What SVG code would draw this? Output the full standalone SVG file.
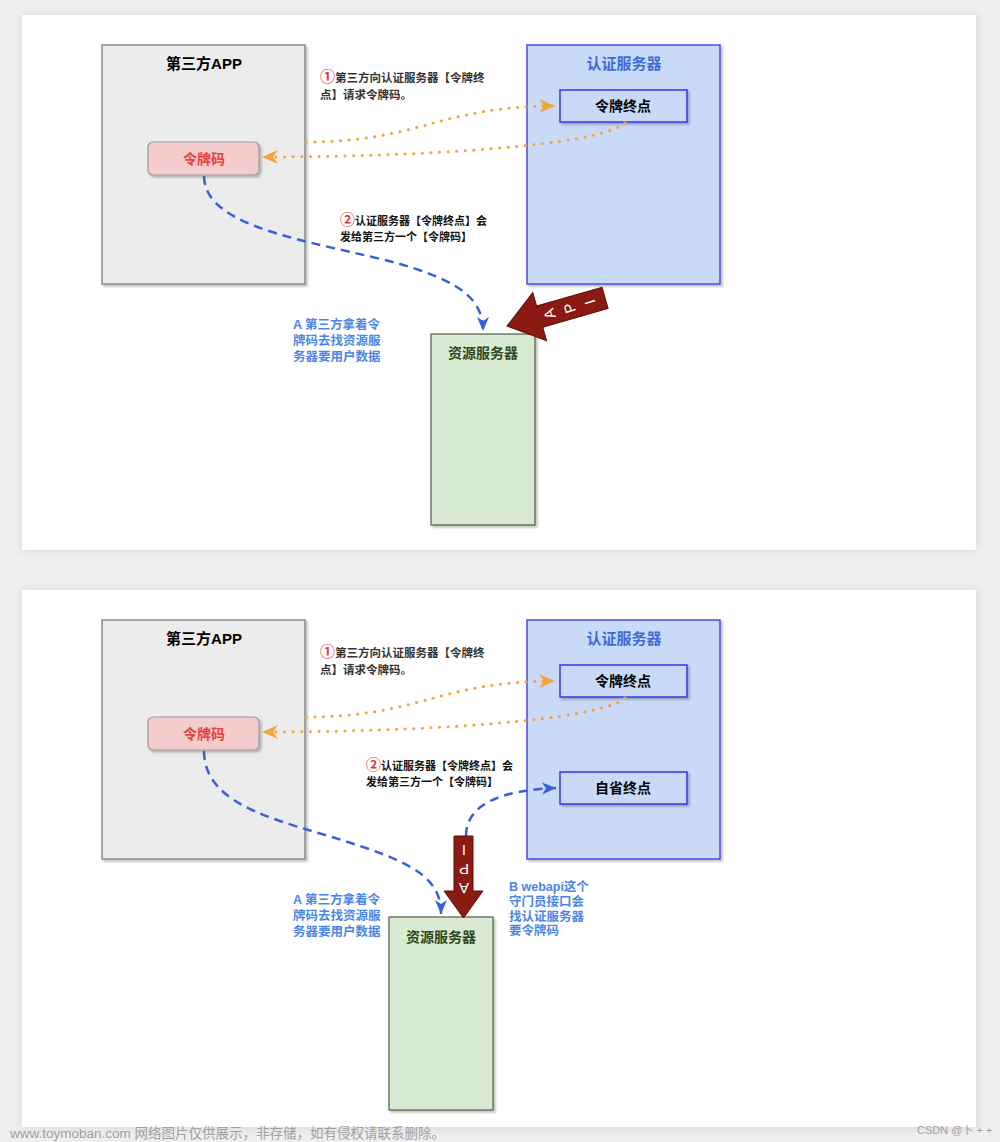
<svg xmlns="http://www.w3.org/2000/svg" width="1000" height="1142" viewBox="0 0 1000 1142">
<style>
text{font-family:"Liberation Sans","Noto Sans CJK SC",sans-serif;font-weight:bold}
.app{fill:#ececec;stroke:#8a8a8a;stroke-width:1.5}
.tok{fill:#f4cccc;stroke:#999;stroke-width:1.2}
.auth{fill:#c9daf8;stroke:#4a4ae6;stroke-width:1.5}
.ep{fill:#c9daf8;stroke:#3535e8;stroke-width:1.5}
.res{fill:#d9ead3;stroke:#4e5e40;stroke-width:1.2}
.t15{font-size:15px;text-anchor:middle}
.t14{font-size:14px;text-anchor:middle}
.lbl{font-size:11.5px;fill:#333}
.lbl2{font-size:11px;fill:#111}
.blu{font-size:12.5px;fill:#4a86e8}
.dot{fill:none;stroke:#f5a33a;stroke-width:3;stroke-dasharray:0.1 8.5;stroke-linecap:round}
.dash{fill:none;stroke:#3a5fd6;stroke-width:2.5;stroke-dasharray:9 6}
.api{fill:#8b1a12;stroke:#5a0f0a;stroke-width:1}
.apit{font-size:15px;fill:#fff;font-weight:normal;text-anchor:middle;dominant-baseline:central}
.wm{font-weight:normal;fill:#a0a0a0}
.num{fill:#e53935;font-size:15px}
</style>
<defs>
<filter id="psh" x="-5%" y="-5%" width="110%" height="110%"><feDropShadow dx="0" dy="0" stdDeviation="5" flood-color="#000" flood-opacity="0.12"/></filter>
<filter id="nsh" x="-10%" y="-10%" width="125%" height="125%"><feDropShadow dx="2" dy="2" stdDeviation="1.2" flood-color="#000" flood-opacity="0.25"/></filter>
<marker id="oa" markerUnits="userSpaceOnUse" markerWidth="20" markerHeight="16" refX="16" refY="7" orient="auto"><path d="M0,0 L16,7 L0,14 L5,7 Z" fill="#f5a33a"/></marker>
<marker id="ba" markerUnits="userSpaceOnUse" markerWidth="20" markerHeight="16" refX="14" refY="6" orient="auto"><path d="M0,0 L14,6 L0,12 L4,6 Z" fill="#3a5fd6"/></marker>
</defs>
<rect width="1000" height="1142" fill="#efefef"/>
<rect x="22" y="15" width="954" height="535" fill="#fff" filter="url(#psh)"/>
<rect x="22" y="590" width="954" height="537" fill="#fff" filter="url(#psh)"/>

<!-- TOP PANEL -->
<g id="top-app"><rect class="app" x="102" y="45" width="203" height="239" filter="url(#nsh)"/><text class="t15" x="204" y="69">第三方APP</text></g>
<g id="top-token"><rect class="tok" x="148" y="142" width="111" height="33" rx="5" filter="url(#nsh)"/><text class="t14" x="204" y="164" fill="#e8413a">令牌码</text></g>
<g id="top-auth"><rect class="auth" x="527" y="45" width="193" height="239" filter="url(#nsh)"/><text class="t15" x="624" y="69" fill="#3c6ad6">认证服务器</text></g>
<g id="top-tokenep"><rect class="ep" x="560" y="90" width="127" height="32" filter="url(#nsh)"/><text class="t14" x="623" y="111">令牌终点</text></g>
<g id="top-res"><rect class="res" x="431" y="334" width="104" height="191" filter="url(#nsh)"/><text class="t14" x="483" y="358" fill="#2d4a1c">资源服务器</text></g>
<g id="top-labels">
<text class="lbl" x="320" y="82"><tspan class="num">①</tspan>第三方向认证服务器【令牌终</text>
<text class="lbl" x="320" y="99">点】请求令牌码。</text>
<text class="lbl2" x="340" y="225"><tspan class="num">②</tspan>认证服务器【令牌终点】会</text>
<text class="lbl2" x="340" y="241">发给第三方一个【令牌码】</text>
<text class="blu" x="293" y="329">A 第三方拿着令</text>
<text class="blu" x="293" y="345">牌码去找资源服</text>
<text class="blu" x="293" y="361">务器要用户数据</text>
</g>
<g id="top-connectors">
<path class="dot" d="M306,142 C420,142 440,106 555,106" marker-end="url(#oa)"/>
<path class="dot" d="M625,123 C600,146 420,157 262,157" marker-end="url(#oa)"/>
<path class="dash" d="M204,176 C204,230 320,242 400,264 C462,282 483,300 483,331" marker-end="url(#ba)"/>
<g id="top-api" transform="translate(507,326) rotate(-16)">
<path class="api" d="M0,0 L34,-25 L34,-11 L102,-11 L102,11 L34,11 L34,25 Z"/>
<text class="apit" transform="translate(44,0) rotate(-92)">A</text>
<text class="apit" transform="translate(65,0) rotate(-92)">P</text>
<text class="apit" transform="translate(86,0) rotate(-92)">I</text>
</g>
</g>

<!-- BOTTOM PANEL -->
<g id="bot-app"><rect class="app" x="102" y="620" width="203" height="239" filter="url(#nsh)"/><text class="t15" x="204" y="644">第三方APP</text></g>
<g id="bot-token"><rect class="tok" x="148" y="717" width="111" height="33" rx="5" filter="url(#nsh)"/><text class="t14" x="204" y="739" fill="#e8413a">令牌码</text></g>
<g id="bot-auth"><rect class="auth" x="527" y="620" width="193" height="239" filter="url(#nsh)"/><text class="t15" x="624" y="644" fill="#3c6ad6">认证服务器</text></g>
<g id="bot-tokenep"><rect class="ep" x="560" y="665" width="127" height="32" filter="url(#nsh)"/><text class="t14" x="623" y="686">令牌终点</text></g>
<g id="bot-selfep"><rect class="ep" x="560" y="772" width="127" height="32" filter="url(#nsh)"/><text class="t14" x="623" y="793">自省终点</text></g>
<g id="bot-res"><rect class="res" x="389" y="917" width="104" height="193" filter="url(#nsh)"/><text class="t14" x="441" y="942" fill="#2d4a1c">资源服务器</text></g>
<g id="bot-labels">
<text class="lbl" x="320" y="657"><tspan class="num">①</tspan>第三方向认证服务器【令牌终</text>
<text class="lbl" x="320" y="674">点】请求令牌码。</text>
<text class="lbl2" x="366" y="770"><tspan class="num">②</tspan>认证服务器【令牌终点】会</text>
<text class="lbl2" x="366" y="786">发给第三方一个【令牌码】</text>
<text class="blu" x="293" y="904">A 第三方拿着令</text>
<text class="blu" x="293" y="920">牌码去找资源服</text>
<text class="blu" x="293" y="936">务器要用户数据</text>
<text class="blu" x="509" y="891" font-size="12">B webapi这个</text>
<text class="blu" x="509" y="906" font-size="12">守门员接口会</text>
<text class="blu" x="509" y="921" font-size="12">找认证服务器</text>
<text class="blu" x="509" y="935" font-size="12">要令牌码</text>
</g>
<g id="bot-connectors">
<path class="dot" d="M306,717 C420,717 440,681 555,681" marker-end="url(#oa)"/>
<path class="dot" d="M625,698 C600,721 420,732 262,732" marker-end="url(#oa)"/>
<path class="dash" d="M204,751 C204,810 290,822 360,846 C420,866 441,882 441,914" marker-end="url(#ba)"/>
<path class="dash" d="M466,836 C466,805 500,790 556,788" marker-end="url(#ba)"/>
<g id="bot-api">
<path class="api" d="M454,836 L473,836 L473,891 L483,891 L463.5,918 L444,891 L454,891 Z"/>
<text class="apit" transform="translate(464,850) rotate(180)">I</text>
<text class="apit" transform="translate(464,869) rotate(180)">P</text>
<text class="apit" transform="translate(464,888) rotate(180)">A</text>
</g>
</g>

<text class="wm" x="10" y="1138" font-size="13.5">www.toymoban.com 网络图片仅供展示，非存储，如有侵权请联系删除。</text>
<text class="wm" x="917" y="1134" font-size="11">CSDN @卜 + +</text>
</svg>
